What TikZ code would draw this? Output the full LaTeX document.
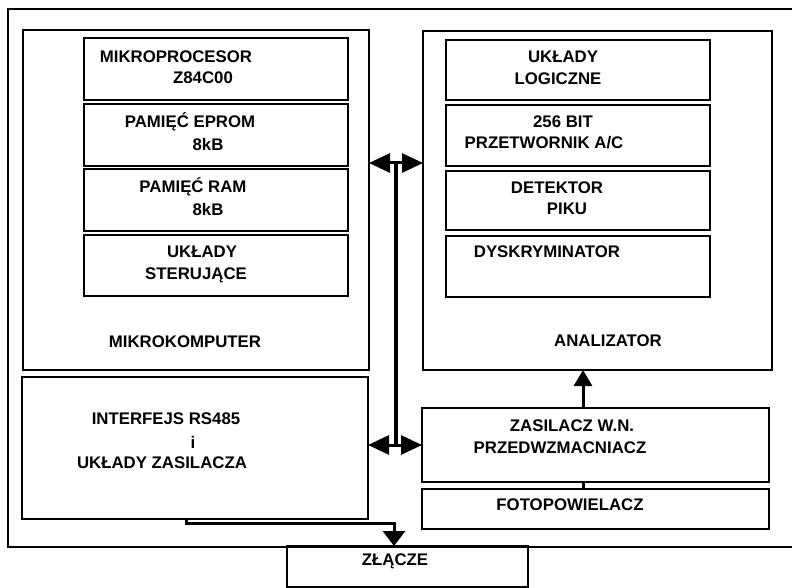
\documentclass[tikz,border=0pt]{standalone}
\usepackage{fontspec}
\setmainfont{Liberation Sans}
\usetikzlibrary{arrows.meta,calc}
\tikzset{
  box/.style={draw, line width=1.2pt, inner sep=0pt, outer sep=0pt},
  lbl/.style={font=\bfseries\fontsize{16.8}{19}\selectfont, inner sep=0pt, anchor=center},
  busline/.style={line width=3.5pt},
  dblarrow/.style={line width=3pt, {Triangle[length=21pt,width=19pt]}-{Triangle[length=21pt,width=19pt]}},
  uparrow/.style={line width=3pt, -{Triangle[length=16pt,width=18pt]}},
  downarrow/.style={line width=3pt, -{Triangle[length=15pt,width=22pt]}},
  link/.style={line width=3pt}
}
\begin{document}
\begin{tikzpicture}[x=1pt,y=-1pt]
\useasboundingbox (0,0) rectangle (792,588);
% outer frame (open on the right)
\draw[line width=2pt] (792,9) -- (8,9) -- (8,546.5) -- (792,546.5);
% MIKROKOMPUTER
\node[box, minimum width=346pt, minimum height=340pt] (mikro) at (196,200) {};
\node[box, minimum width=264pt, minimum height=62pt] (m1) at (216,69) {};
\node[box, minimum width=264pt, minimum height=62pt] (m2) at (216,135) {};
\node[box, minimum width=264pt, minimum height=62pt] (m3) at (216,200) {};
\node[box, minimum width=264pt, minimum height=61pt] (m4) at (216,265.5) {};
\node[lbl] (t1a) at (176,57) {MIKROPROCESOR};
\node[lbl] (t1b) at (203,78) {Z84C00};
\node[lbl] (t2a) at (190,122) {PAMIĘĆ EPROM};
\node[lbl] (t2b) at (208,144) {8kB};
\node[lbl] (t3a) at (193,187) {PAMIĘĆ RAM};
\node[lbl] (t3b) at (208,209) {8kB};
\node[lbl] (t4a) at (202,252) {UKŁADY};
\node[lbl] (t4b) at (196,275) {STERUJĄCE};
\node[lbl] (tmk) at (185,342) {MIKROKOMPUTER};
% INTERFEJS
\node[box, minimum width=346pt, minimum height=142pt] (interf) at (195,448) {};
\node[lbl] (ti1) at (166,419) {INTERFEJS RS485};
\node[lbl] (ti2) at (193,442) {i};
\node[lbl] (ti3) at (162,463) {UKŁADY ZASILACZA};
% ANALIZATOR
\node[box, minimum width=349pt, minimum height=339pt] (anal) at (597.5,200.5) {};
\node[box, minimum width=264pt, minimum height=60pt] (a1) at (578,70) {};
\node[box, minimum width=264pt, minimum height=61pt] (a2) at (578,135.5) {};
\node[box, minimum width=264pt, minimum height=59pt] (a3) at (578,200.5) {};
\node[box, minimum width=264pt, minimum height=61pt] (a4) at (578,266.5) {};
\node[lbl] (u1a) at (563,57) {UKŁADY};
\node[lbl] (u1b) at (558,79) {LOGICZNE};
\node[lbl] (u2a) at (563,122) {256 BIT};
\node[lbl] (u2b) at (544,143) {PRZETWORNIK A/C};
\node[lbl] (u3a) at (557,188) {DETEKTOR};
\node[lbl] (u3b) at (567,209) {PIKU};
\node[lbl] (u4a) at (547,252) {DYSKRYMINATOR};
\node[lbl] (tan) at (608,341) {ANALIZATOR};
% ZASILACZ, FOTOPOWIELACZ
\node[box, minimum width=347pt, minimum height=74pt] (zas) at (595.5,445) {};
\node[lbl] (tz1) at (572,426) {ZASILACZ W.N.};
\node[lbl] (tz2) at (560,448) {PRZEDWZMACNIACZ};
\node[box, minimum width=347pt, minimum height=40pt] (foto) at (595.5,509) {};
\node[lbl] (tf) at (570,505) {FOTOPOWIELACZ};
% ZLACZE
\node[box, minimum width=241pt, minimum height=41pt] (zlacze) at (407.5,566.5) {};
\node[lbl] (tzl) at (395,561) {ZŁĄCZE};
% connectors
\coordinate (bt) at (396,163);
\coordinate (bb) at (396,445);
\draw[busline] (bt) -- (bb);
\draw[dblarrow] (mikro.east |- bt) -- (anal.west |- bt);
\draw[dblarrow] (interf.east |- bb) -- (zas.west |- bb);
\coordinate (za) at (583,0);
\draw[uparrow] (zas.north -| za) -- (anal.south -| za);
\draw[link] (foto.north -| za) -- (zas.south -| za);
\coordinate (c1) at (186,523);
\coordinate (c2) at (394,0);
\draw[downarrow] (interf.south -| c1) -- (c1) -- (c1 -| c2) -- (zlacze.north -| c2);
\end{tikzpicture}
\end{document}
